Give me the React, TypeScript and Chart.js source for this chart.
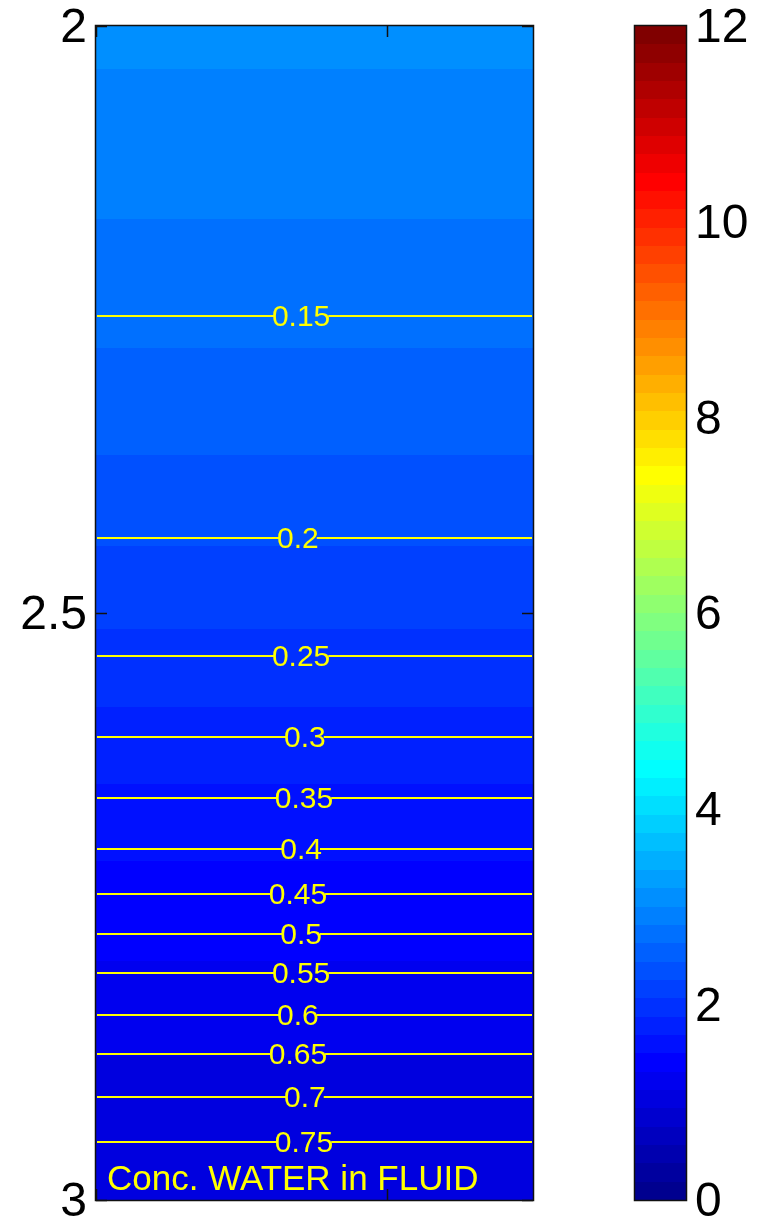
import { useEffect, useRef } from 'react';
import { Chart, registerables } from 'chart.js';

Chart.register(...registerables);

const FONT = "'Liberation Sans', Arial, Helvetica, sans-serif";

// Axis ticks
const yTickValues = [2, 2.5, 3];
const yTickLabels = ['2', '2.5', '3'];
const xTickValues = [0, 1];
const colorbarTickValues = [0, 2, 4, 6, 8, 10, 12];
const colorbarTickLabels = ['0', '2', '4', '6', '8', '10', '12'];

// Filled bands: depth edges (top to bottom) and the colour-scale value of each band
const bandEdges = [2, 2.037, 2.164, 2.274, 2.365, 2.443, 2.514, 2.58, 2.646, 2.711, 2.796, 2.878, 3];
const bandValues = [3.09, 2.91, 2.72, 2.53, 2.34, 2.16, 1.97, 1.78, 1.59, 1.41, 1.22, 1.03];

// Contour lines of water concentration
const contourLabels = ['0.15', '0.2', '0.25', '0.3', '0.35', '0.4', '0.45', '0.5', '0.55', '0.6', '0.65', '0.7', '0.75'];
const contourDepths = [2.247, 2.436, 2.537, 2.606, 2.658, 2.701, 2.739, 2.773, 2.807, 2.842, 2.876, 2.912, 2.951];
const contourLabelX = [0.704, 0.693, 0.704, 0.717, 0.714, 0.704, 0.693, 0.704, 0.704, 0.693, 0.693, 0.717, 0.714];

const plotTitle = 'Conc. WATER in FLUID';

const X_MIN = 0;
const X_MAX = 1.5;
const C_MIN = 0;
const C_MAX = 12;
const N_LEVELS = 64;

function jet(idx: number): string {
  const i = idx + 1;
  let r = 0, g = 0, b = 0;
  if (i <= 8) {
    b = 0.5 + i * 0.0625;
  } else if (i <= 24) {
    g = (i - 8) * 0.0625;
    b = 1;
  } else if (i <= 40) {
    r = (i - 24) * 0.0625;
    g = 1;
    b = 1 - (i - 24) * 0.0625;
  } else if (i <= 56) {
    r = 1;
    g = 1 - (i - 40) * 0.0625;
  } else {
    r = 1 - (i - 56) * 0.0625;
  }
  return `rgb(${Math.round(r * 255)},${Math.round(g * 255)},${Math.round(b * 255)})`;
}

function colorFor(v: number): string {
  const idx = Math.max(0, Math.min(N_LEVELS - 1, Math.floor(((v - C_MIN) / (C_MAX - C_MIN)) * N_LEVELS)));
  return jet(idx);
}

const contourPlugin = {
  id: 'contourPlot',
  beforeDraw(chart: any) {
    const { ctx, width, height } = chart;
    ctx.save();
    ctx.fillStyle = '#ffffff';
    ctx.fillRect(0, 0, width, height);
    ctx.restore();
  },
  afterDraw(chart: any) {
    const { ctx, chartArea: ca, scales } = chart;
    const xs = scales.x;
    const ys = scales.y;
    const cs = scales.cb;
    ctx.save();

    // filled bands
    for (let i = 0; i < bandValues.length; i++) {
      const y0 = Math.round(ys.getPixelForValue(bandEdges[i]));
      const y1 = Math.round(ys.getPixelForValue(bandEdges[i + 1]));
      ctx.fillStyle = colorFor(bandValues[i]);
      ctx.fillRect(ca.left, y0, ca.right - ca.left, y1 - y0);
    }

    // contour lines with labels
    ctx.font = `30px ${FONT}`;
    ctx.textAlign = 'center';
    ctx.textBaseline = 'middle';
    const xl = xs.getPixelForValue(X_MIN) + 1;
    const xr = xs.getPixelForValue(X_MAX) - 1;
    for (let i = 0; i < contourLabels.length; i++) {
      const y = Math.round(ys.getPixelForValue(contourDepths[i]));
      const xc = xs.getPixelForValue(contourLabelX[i]);
      const w = ctx.measureText(contourLabels[i]).width;
      ctx.strokeStyle = '#ffff00';
      ctx.lineWidth = 2;
      ctx.beginPath();
      ctx.moveTo(xl, y);
      ctx.lineTo(xc - w / 2 + 2, y);
      ctx.moveTo(xc + w / 2 - 2, y);
      ctx.lineTo(xr, y);
      ctx.stroke();
      ctx.fillStyle = '#ffff00';
      ctx.fillText(contourLabels[i], xc, y + 2);
    }

    // title inside plot
    ctx.font = `35px ${FONT}`;
    ctx.textAlign = 'left';
    ctx.textBaseline = 'alphabetic';
    ctx.fillStyle = '#ffff00';
    ctx.fillText(plotTitle, ca.left + 11, ca.bottom - 10);

    // axes box
    ctx.strokeStyle = '#111';
    ctx.lineWidth = 1.5;
    ctx.strokeRect(ca.left - 0.5, ca.top - 0.5, ca.right - ca.left + 1, ca.bottom - ca.top + 1);

    // inward ticks
    ctx.lineWidth = 1.5;
    ctx.beginPath();
    for (const v of yTickValues) {
      const y = Math.round(ys.getPixelForValue(v)) + 0.5;
      ctx.moveTo(ca.left, y);
      ctx.lineTo(ca.left + 11, y);
      ctx.moveTo(ca.right, y);
      ctx.lineTo(ca.right - 11, y);
    }
    for (const v of xTickValues) {
      const x = Math.round(xs.getPixelForValue(v)) + 0.5;
      ctx.moveTo(x, ca.top);
      ctx.lineTo(x, ca.top + 11);
      ctx.moveTo(x, ca.bottom);
      ctx.lineTo(x, ca.bottom - 11);
    }
    ctx.stroke();

    // colorbar
    const cbLeft = cs.left + 102;
    const cbW = 51;
    const step = (C_MAX - C_MIN) / N_LEVELS;
    for (let k = 0; k < N_LEVELS; k++) {
      const yA = Math.round(cs.getPixelForValue(C_MIN + k * step));
      const yB = Math.round(cs.getPixelForValue(C_MIN + (k + 1) * step));
      ctx.fillStyle = jet(k);
      ctx.fillRect(cbLeft, yB, cbW, yA - yB);
    }
    ctx.strokeStyle = '#111';
    ctx.lineWidth = 1.5;
    const cTop = cs.getPixelForValue(C_MAX);
    const cBot = cs.getPixelForValue(C_MIN);
    ctx.strokeRect(cbLeft - 0.5, cTop - 0.5, cbW + 1, cBot - cTop + 1);

    ctx.restore();
  },
};

export default function App() {
  const canvasRef = useRef<HTMLCanvasElement | null>(null);

  useEffect(() => {
    const canvas = canvasRef.current;
    if (!canvas) return;
    const chart = new Chart(canvas, {
      type: 'scatter',
      data: { datasets: [] },
      options: {
        responsive: false,
        maintainAspectRatio: false,
        animation: false,
        devicePixelRatio: 1,
        layout: { padding: { left: 0, right: 0, top: 26, bottom: 22 } },
        plugins: {
          legend: { display: false },
          tooltip: { enabled: false },
        },
        scales: {
          x: {
            type: 'linear',
            min: X_MIN,
            max: X_MAX,
            display: false,
          },
          y: {
            type: 'linear',
            position: 'left',
            reverse: true,
            min: 2,
            max: 3,
            grid: { display: false, drawTicks: false },
            border: { display: false },
            ticks: {
              stepSize: 0.5,
              padding: 9,
              labelOffset: 3,
              color: '#000',
              font: { family: FONT, size: 48, lineHeight: 1.2 },
              callback: (v: any) => {
                const i = yTickValues.indexOf(Number(v));
                return i >= 0 ? yTickLabels[i] : '';
              },
            },
            afterFit: (s: any) => {
              s.width = 96;
              s.paddingTop = 0;
              s.paddingBottom = 0;
            },
          },
          cb: {
            type: 'linear',
            axis: 'y',
            position: 'right',
            min: C_MIN,
            max: C_MAX,
            grid: { display: false, drawTicks: false },
            border: { display: false },
            ticks: {
              stepSize: 2,
              padding: 162,
              labelOffset: 3,
              color: '#000',
              font: { family: FONT, size: 48, lineHeight: 1.2 },
              callback: (v: any) => {
                const i = colorbarTickValues.indexOf(Number(v));
                return i >= 0 ? colorbarTickLabels[i] : '';
              },
            },
            afterFit: (s: any) => {
              s.width = 241;
              s.paddingTop = 0;
              s.paddingBottom = 0;
            },
          },
        },
      } as any,
      plugins: [contourPlugin],
    });
    return () => chart.destroy();
  }, []);

  return (
    <div style={{ position: 'absolute', left: 0, top: 0, width: 774, height: 1222, background: '#fff' }}>
      <canvas ref={canvasRef} width={774} height={1222} style={{ display: 'block' }} />
    </div>
  );
}
